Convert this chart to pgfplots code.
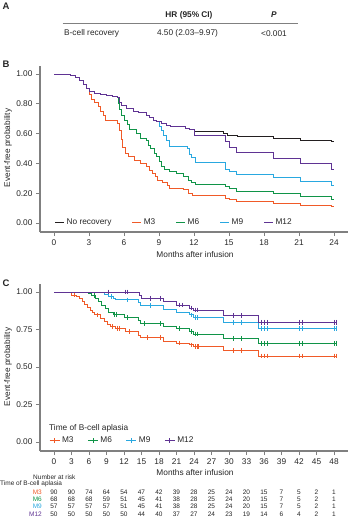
\documentclass[border=0pt]{standalone}
\usepackage{fontspec}
\setmainfont{Liberation Sans}
\usepackage{pgfplots}
\pgfplotsset{compat=1.18}
\definecolor{cblk}{HTML}{231F20}
\definecolor{cm3}{HTML}{F05A28}
\definecolor{cm6}{HTML}{109448}
\definecolor{cm9}{HTML}{29A8E0}
\definecolor{cm12}{HTML}{5F3393}
\definecolor{spine}{HTML}{808080}
\definecolor{txt}{HTML}{262626}
\newcommand\fs{\fontsize{8.3bp}{10bp}\selectfont}
\newcommand\fss{\fontsize{6.5bp}{8bp}\selectfont}
\pgfplotsset{
  km/.style={
    scale only axis, axis lines=left,
    axis line style={-, spine, line width=1.3bp},
    tick style={spine, line width=0.8bp}, major tick length=4bp, tick align=outside,
    ticklabel style={font=\fs, text=txt},
    /pgf/number format/assume math mode=true,
    minor tick num=0,
    clip=false,
    every axis plot/.append style={line width=0.9bp},
  }
}
\begin{document}
\begin{tikzpicture}
\useasboundingbox (0,0) rectangle (351bp,-525bp);
% ---------- Panel A ----------
\begin{scope}[x=1bp,y=1bp]
\node[font=\fontsize{9.5bp}{11bp}\selectfont\bfseries, text=txt] at (6,-6) {A};
\node[font=\fs\bfseries, text=txt] at (189,-15) {HR (95\% CI)};
\node[font=\fs\bfseries\itshape, text=txt] at (274,-15) {P};
\draw[spine, line width=0.8bp] (62.5,-23.3) -- (297.5,-23.3);
\node[font=\fs, text=txt, anchor=west, inner sep=0] at (64,-33.3) {B-cell recovery};
\node[font=\fs, text=txt] at (187.5,-33.3) {4.50 (2.03–9.97)};
\node[font=\fs, text=txt] at (274,-33.3) {<0.001};
\node[font=\fontsize{9.5bp}{11bp}\selectfont\bfseries, text=txt] at (6,-64) {B};
\node[font=\fs, text=txt, rotate=90] at (8,-148) {Event-free probability};
\node[font=\fs, text=txt] at (195,-254.5) {Months after infusion};
\node[font=\fontsize{9.5bp}{11bp}\selectfont\bfseries, text=txt] at (6,-283) {C};
\node[font=\fs, text=txt, rotate=90] at (8,-367) {Event-free probability};
\node[font=\fs, text=txt] at (195,-473) {Months after infusion};
\end{scope}
% ---------- Panel B ----------
\begin{axis}[km,
  at={(40bp,-232bp)}, anchor=south west,
  width=308bp, height=166bp,
  xmin=-1.2, xmax=25.2, ymin=-0.0604, ymax=1.054,
  xtick={0,3,...,24},
  ytick={0,0.2,0.4,0.6,0.8,1},
  yticklabels={0.00,0.20,0.40,0.60,0.80,1.00},
  legend image code/.code={\draw[#1] (0bp,0bp) -- (9bp,0bp);},
  legend style={at={(axis cs:0.05,0.005)}, anchor=west, draw=none, fill=none,
    legend columns=5, font=\fs, text=txt, inner sep=0bp,
    /tikz/every even column/.append style={column sep=18.5bp}},
]
\addplot[cblk, const plot] coordinates {(0,1) (1.4,0.99) (1.8,0.98) (2.2,0.96) (2.5,0.93) (2.8,0.90) (3.0,0.88) (3.5,0.87) (4.0,0.86) (4.5,0.855) (5.0,0.85) (5.4,0.84) (5.6,0.81) (5.8,0.79) (6.2,0.77) (6.8,0.75) (7.2,0.74) (7.9,0.725) (8.2,0.71) (8.5,0.69) (8.8,0.68) (9.2,0.665) (9.6,0.655) (10.0,0.645) (11.3,0.635) (11.6,0.625) (12.0,0.612) (14.5,0.60) (14.9,0.59) (15.7,0.58) (18.8,0.568) (21.1,0.557) (23.8,0.55) (24,0.55)};
\addlegendentry{No recovery}
\addplot[cm3, const plot] coordinates {(0,1) (1.4,0.99) (1.8,0.98) (2.2,0.96) (2.5,0.93) (2.8,0.90) (3.0,0.86) (3.2,0.83) (3.5,0.81) (3.8,0.78) (4.0,0.75) (4.2,0.72) (4.4,0.69) (5.4,0.67) (5.6,0.62) (5.8,0.56) (5.9,0.51) (6.1,0.47) (6.4,0.445) (6.9,0.42) (7.4,0.40) (7.9,0.378) (8.2,0.35) (8.4,0.333) (8.7,0.31) (8.9,0.289) (9.3,0.27) (9.7,0.255) (9.9,0.233) (11.1,0.222) (11.5,0.20) (11.9,0.182) (14.7,0.166) (15.0,0.159) (15.65,0.145) (18.8,0.132) (21.1,0.12) (23.8,0.108) (24,0.108)};
\addlegendentry{M3}
\addplot[cm6, const plot] coordinates {(0,1) (1.4,0.99) (1.8,0.98) (2.2,0.96) (2.5,0.93) (2.8,0.90) (3.0,0.88) (3.5,0.87) (4.0,0.86) (4.5,0.855) (5.0,0.85) (5.4,0.84) (5.5,0.80) (5.6,0.76) (5.8,0.72) (6.0,0.69) (6.3,0.66) (6.5,0.63) (7.1,0.60) (7.4,0.57) (7.9,0.557) (8.1,0.52) (8.3,0.50) (8.6,0.47) (8.8,0.445) (9.0,0.41) (9.2,0.38) (9.5,0.36) (9.9,0.344) (10.5,0.33) (11.1,0.31) (11.5,0.289) (11.8,0.275) (12.1,0.262) (14.7,0.245) (15.0,0.233) (15.65,0.21) (18.8,0.197) (21.1,0.177) (23.8,0.159) (24,0.159)};
\addlegendentry{M6}
\addplot[cm9, const plot] coordinates {(0,1) (1.4,0.99) (1.8,0.98) (2.2,0.96) (2.5,0.93) (2.8,0.90) (3.0,0.88) (3.5,0.87) (4.0,0.86) (4.5,0.855) (5.0,0.85) (5.4,0.84) (5.6,0.81) (5.8,0.79) (6.2,0.77) (6.8,0.75) (7.2,0.74) (7.9,0.725) (8.2,0.71) (8.5,0.69) (8.8,0.68) (9.0,0.65) (9.2,0.62) (9.4,0.59) (9.6,0.557) (9.9,0.512) (11.4,0.50) (11.6,0.46) (11.8,0.44) (12.1,0.405) (14.7,0.36) (15.0,0.345) (15.65,0.329) (18.8,0.307) (21.1,0.277) (23.8,0.255) (24,0.255)};
\addlegendentry{M9}
\addplot[cm12, const plot] coordinates {(0,1) (1.4,0.99) (1.8,0.98) (2.2,0.96) (2.5,0.93) (2.8,0.90) (3.0,0.88) (3.5,0.87) (4.0,0.86) (4.5,0.855) (5.0,0.85) (5.4,0.84) (5.6,0.81) (5.8,0.79) (6.2,0.77) (6.8,0.75) (7.2,0.74) (7.9,0.725) (8.2,0.71) (8.5,0.69) (8.8,0.68) (9.2,0.665) (9.6,0.655) (10.0,0.645) (11.3,0.635) (11.6,0.625) (12.0,0.586) (14.7,0.55) (15.0,0.51) (15.65,0.474) (18.8,0.434) (21.1,0.40) (23.8,0.362) (24,0.362)};
\addlegendentry{M12}
\end{axis}
% ---------- Panel C ----------
\begin{axis}[km,
  at={(40bp,-451bp)}, anchor=south west,
  width=308bp, height=167bp,
  xmin=-2.4, xmax=50.4, ymin=-0.06, ymax=1.053,
  xtick={0,3,...,48},
  ytick={0,0.25,0.5,0.75,1},
  yticklabels={0.00,0.25,0.50,0.75,1.00},
  legend image code/.code={\draw[#1] (0bp,0bp) -- (10bp,0bp); \draw[#1] (5bp,-2.5bp) -- (5bp,2.5bp);},
  legend style={at={(axis cs:-0.86,0.013)}, anchor=west, draw=none, fill=none,
    legend columns=4, font=\fs, text=txt, inner sep=0bp,
    /tikz/every even column/.append style={column sep=12bp}},
  censor/.style={only marks, mark=|, mark size=2.4bp, mark options={line width=0.7bp}, forget plot},
]
\addplot[cm3, const plot, forget plot] coordinates {(0,1) (3.0,0.98) (3.9,0.97) (4.4,0.955) (4.8,0.94) (5.3,0.915) (5.8,0.895) (6.2,0.88) (6.6,0.865) (7.0,0.847) (7.9,0.824) (8.7,0.802) (9.2,0.785) (9.6,0.769) (10.5,0.758) (12.2,0.736) (14.5,0.713) (14.8,0.695) (18.7,0.672) (21.0,0.66) (23.3,0.647) (23.9,0.636) (29.0,0.609) (35.0,0.573) (48.5,0.573)};
\addplot[cm3, censor] coordinates {(3.5,0.98) (7.5,0.847) (10.0,0.769) (10.8,0.758) (11.2,0.758) (13.0,0.736) (16.0,0.695) (18.2,0.695) (21.5,0.66) (23.6,0.647) (24.2,0.636) (24.5,0.636) (24.8,0.636) (30.7,0.609) (32.2,0.609) (35.6,0.573) (36.0,0.573) (36.5,0.573) (42.0,0.573) (42.5,0.573) (48.0,0.573) (48.4,0.573)};
\addplot[cm6, const plot, forget plot] coordinates {(0,1) (5.9,0.99) (6.5,0.975) (7.1,0.958) (7.7,0.936) (8.2,0.909) (8.8,0.887) (9.4,0.864) (10.2,0.851) (12.0,0.829) (14.5,0.807) (14.8,0.79) (18.7,0.769) (21.0,0.758) (23.3,0.736) (23.9,0.72) (29.0,0.69) (35.0,0.658) (48.5,0.658)};
\addplot[cm6, censor] coordinates {(7.0,0.975) (10.3,0.851) (10.7,0.851) (12.5,0.829) (15.5,0.79) (18.2,0.79) (21.5,0.758) (23.6,0.736) (24.2,0.72) (24.5,0.72) (30.7,0.69) (32.2,0.69) (35.6,0.658) (36.0,0.658) (36.5,0.658) (42.0,0.658) (42.5,0.658) (48.0,0.658) (48.4,0.658)};
\addplot[cm9, const plot, forget plot] coordinates {(0,1) (8.7,0.985) (9.3,0.969) (10.2,0.955) (10.5,0.947) (14.5,0.93) (14.8,0.91) (18.8,0.885) (21.0,0.862) (23.3,0.847) (23.9,0.83) (29.0,0.798) (35.0,0.758) (48.5,0.758)};
\addplot[cm9, censor] coordinates {(9.8,0.969) (12.5,0.947) (16.6,0.91) (23.6,0.847) (24.2,0.83) (24.6,0.83) (30.7,0.798) (32.2,0.798) (35.6,0.758) (36.0,0.758) (36.5,0.758) (42.0,0.758) (42.5,0.758) (48.0,0.758) (48.4,0.758)};
\addplot[cm12, const plot, forget plot] coordinates {(0,1) (14.6,0.975) (15.0,0.958) (18.8,0.935) (21.0,0.913) (23.3,0.893) (23.9,0.88) (29.0,0.842) (35.0,0.798) (48.5,0.798)};
\addplot[cm12, censor] coordinates {(9.3,1) (12.2,1) (12.5,1) (16.5,0.958) (18.2,0.958) (21.5,0.913) (22.0,0.913) (23.6,0.893) (24.2,0.88) (24.6,0.88) (30.7,0.842) (32.2,0.842) (35.6,0.798) (36.0,0.798) (36.5,0.798) (42.0,0.798) (42.5,0.798) (48.0,0.798) (48.4,0.798)};
\addlegendimage{cm3, line width=0.9bp}\addlegendentry{M3}
\addlegendimage{cm6, line width=0.9bp}\addlegendentry{M6}
\addlegendimage{cm9, line width=0.9bp}\addlegendentry{M9}
\addlegendimage{cm12, line width=0.9bp}\addlegendentry{M12}
\node[font=\fs, text=txt, anchor=west, inner sep=0] at (axis cs:-0.86,0.093) {Time of B-cell aplasia};
\end{axis}
% ---------- Risk table ----------
\begin{scope}[x=1bp,y=1bp]
\node[font=\fss, text=txt, anchor=west, inner sep=0] at (33,-477.3) {Number at risk};
\node[font=\fss, text=txt, anchor=west, inner sep=0] at (0,-483.5) {Time of B-cell aplasia};
\node[font=\fss, text=cm3, anchor=east, inner sep=0] at (42,-492.3) {M3};
\node[font=\fss, text=cm6, anchor=east, inner sep=0] at (42,-499.5) {M6};
\node[font=\fss, text=cm9, anchor=east, inner sep=0] at (42,-506.7) {M9};
\node[font=\fss, text=cm12, anchor=east, inner sep=0] at (42,-514) {M12};
\foreach \v [count=\i from 0] in {90,90,74,64,54,47,42,39,28,25,24,20,15,7,5,2,1}
  \node[font=\fss, text=txt, inner sep=0] at ({54+17.5*\i},-492.3) {\v};
\foreach \v [count=\i from 0] in {68,68,68,59,51,45,41,38,28,25,24,20,15,7,5,2,1}
  \node[font=\fss, text=txt, inner sep=0] at ({54+17.5*\i},-499.5) {\v};
\foreach \v [count=\i from 0] in {57,57,57,57,51,45,41,38,28,25,24,20,15,7,5,2,1}
  \node[font=\fss, text=txt, inner sep=0] at ({54+17.5*\i},-506.7) {\v};
\foreach \v [count=\i from 0] in {50,50,50,50,50,44,40,37,27,24,23,19,14,6,4,2,1}
  \node[font=\fss, text=txt, inner sep=0] at ({54+17.5*\i},-514) {\v};
\end{scope}
\end{tikzpicture}
\end{document}
